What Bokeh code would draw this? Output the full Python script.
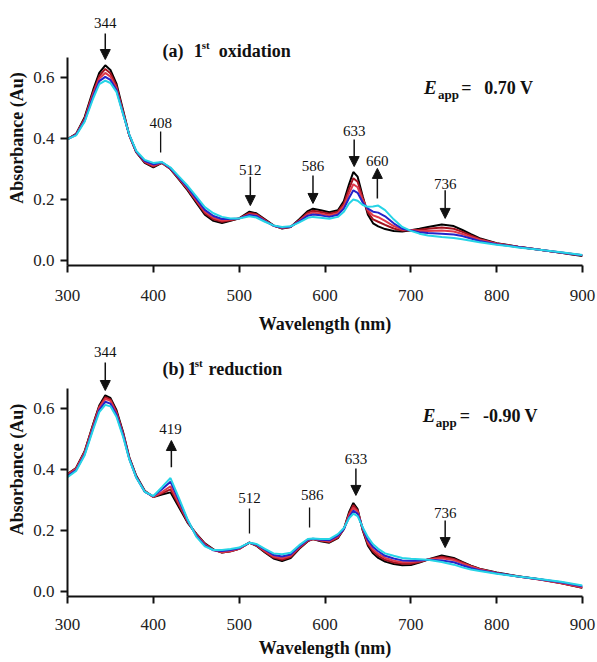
from bokeh.plotting import figure
from bokeh.models import Label, Arrow, NormalHead, FixedTicker, Range1d, CustomJSTickFormatter
from bokeh.layouts import column
from bokeh.embed import file_html
from bokeh.resources import INLINE

# ---------------- data ----------------
wavelength = [300, 310, 320, 330, 337, 344, 350, 357, 365, 372,
              380, 390, 400, 410, 420, 430, 440, 450, 460, 470,
              480, 490, 500, 512, 520, 530, 540, 550, 560, 570,
              580, 586, 595, 605, 615, 622, 628, 633, 638, 644,
              650, 656, 662, 670, 680, 690, 700, 710, 720, 736,
              750, 760, 770, 780, 800, 825, 850, 875, 900]

# (a) 1st oxidation
ox_0 = [.398, .415, .470, .560, .615, .640, .625, .580, .490, .410,
        .355, .320, .305, .320, .300, .265, .230, .190, .150, .130,
        .123, .130, .138, .160, .155, .135, .115, .105, .110, .135,
        .162, .170, .165, .158, .165, .195, .250, .290, .275, .210,
        .150, .122, .112, .103, .097, .095, .099, .104, .110, .118,
        .113, .100, .086, .073, .057, .045, .035, .025, .015]
ox_1 = [.398, .414, .466, .553, .605, .628, .614, .572, .485, .410,
        .356, .322, .308, .320, .300, .267, .233, .194, .155, .135,
        .127, .132, .138, .156, .152, .133, .114, .106, .110, .132,
        .157, .163, .159, .153, .160, .187, .235, .270, .258, .205,
        .158, .135, .127, .117, .105, .098, .099, .101, .104, .108,
        .104, .094, .082, .071, .056, .045, .035, .025, .016]
ox_2 = [.398, .413, .462, .547, .597, .615, .603, .565, .482, .410,
        .357, .324, .311, .321, .302, .269, .236, .198, .160, .140,
        .131, .134, .138, .152, .149, .131, .114, .107, .111, .130,
        .152, .157, .153, .148, .155, .178, .220, .250, .240, .198,
        .165, .148, .142, .130, .113, .101, .099, .097, .097, .098,
        .095, .087, .077, .068, .055, .044, .035, .026, .017]
ox_3 = [.398, .412, .458, .540, .588, .602, .592, .560, .479, .412,
        .358, .326, .315, .322, .303, .271, .240, .203, .166, .146,
        .136, .136, .138, .149, .146, .129, .114, .108, .111, .128,
        .147, .151, .148, .143, .150, .170, .205, .230, .222, .190,
        .170, .160, .157, .145, .122, .104, .098, .093, .090, .088,
        .085, .080, .072, .064, .053, .044, .035, .026, .017]
ox_4 = [.398, .410, .455, .532, .578, .590, .582, .553, .477, .413,
        .360, .330, .320, .323, .305, .275, .245, .210, .175, .155,
        .143, .138, .138, .145, .141, .127, .115, .110, .112, .125,
        .140, .143, .140, .137, .143, .160, .187, .200, .196, .182,
        .176, .177, .180, .165, .135, .110, .097, .088, .082, .077,
        .074, .070, .065, .060, .052, .043, .035, .027, .018]

# (b) 1st reduction
re_0 = [.385, .405, .460, .550, .610, .643, .635, .595, .520, .440,
        .380, .330, .310, .318, .325, .275, .225, .190, .158, .138,
        .128, .132, .140, .160, .150, .128, .108, .100, .110, .140,
        .165, .172, .165, .160, .175, .205, .260, .290, .270, .200,
        .150, .125, .110, .098, .090, .086, .087, .095, .105, .118,
        .110, .097, .085, .075, .062, .050, .040, .028, .012]
re_1 = [.385, .404, .458, .547, .606, .637, .630, .590, .517, .438,
        .378, .329, .310, .322, .335, .282, .228, .188, .156, .137,
        .128, .132, .140, .160, .151, .130, .111, .104, .113, .142,
        .166, .172, .166, .162, .177, .205, .255, .283, .266, .202,
        .155, .131, .117, .104, .095, .091, .091, .097, .105, .114,
        .107, .095, .084, .074, .061, .049, .039, .027, .012]
re_2 = [.383, .402, .455, .543, .602, .632, .625, .585, .513, .436,
        .376, .328, .310, .326, .345, .289, .230, .186, .154, .136,
        .129, .133, .140, .160, .152, .133, .115, .109, .117, .145,
        .168, .172, .168, .165, .180, .205, .250, .275, .262, .205,
        .161, .138, .124, .110, .101, .096, .096, .099, .105, .109,
        .103, .092, .082, .073, .061, .049, .039, .028, .014]
re_3 = [.378, .398, .450, .537, .595, .622, .616, .580, .510, .435,
        .375, .327, .312, .335, .360, .298, .233, .183, .151, .135,
        .133, .136, .142, .160, .154, .137, .120, .115, .121, .148,
        .170, .173, .170, .168, .183, .205, .243, .265, .255, .208,
        .168, .146, .132, .117, .108, .102, .101, .102, .104, .102,
        .096, .086, .077, .070, .060, .049, .040, .030, .017]
re_4 = [.375, .395, .447, .532, .588, .612, .607, .573, .505, .433,
        .374, .327, .313, .342, .372, .305, .236, .180, .148, .136,
        .136, .139, .144, .160, .156, .140, .125, .122, .127, .152,
        .172, .174, .172, .172, .188, .208, .240, .255, .247, .210,
        .178, .155, .140, .125, .117, .110, .107, .106, .104, .097,
        .088, .079, .072, .067, .058, .049, .041, .032, .020]

series_colors = ["#000000", "#a3121f", "#e0394a", "#2424c8", "#26d4e6"]
x_ticks = [300, 400, 500, 600, 700, 800, 900]
y_ticks = [0.0, 0.2, 0.4, 0.6]

# peak annotations: (text, x of label, y of label, arrow x, y start, y end, kind)
ox_peaks = [("344", 344, .780, 344, .744, .659, "down"),
            ("408", 408.5, .452, 408.5, .423, .354, "line"),
            ("512", 513, .298, 513, .275, .180, "down"),
            ("586", 586, .311, 586, .279, .187, "down"),
            ("633", 634, .426, 634, .397, .308, "down"),
            ("660", 661, .325, 661, .203, .302, "up"),
            ("736", 740, .252, 740, .230, .138, "down")]
re_peaks = [("344", 344, .784, 344, .751, .659, "down"),
            ("419", 420, .534, 421, .407, .495, "up"),
            ("512", 512, .308, 512, .272, .190, "line"),
            ("586", 585, .315, 582, .275, .210, "line"),
            ("633", 636, .436, 636, .403, .315, "down"),
            ("736", 740, .259, 740, .233, .144, "down")]

FONT = "Liberation Serif"
Y_START = -0.0164
Y_AXIS_TOP = 0.666


def lab(p, x, y, text, size="15px", style="normal", align="center"):
    p.add_layout(Label(x=x, y=y, text=text, text_font=FONT, text_font_size=size,
                       text_font_style=style, text_align=align, text_baseline="middle",
                       text_color="#111111"))


def make_panel(series, peaks, height, top, bottom, y_end, tick_standoff, label_standoff):
    p = figure(width=597, height=height, output_backend="svg", toolbar_location=None,
               x_range=Range1d(300, 900), y_range=Range1d(Y_START, y_end),
               min_border_left=67, min_border_right=15, min_border_top=top,
               min_border_bottom=bottom)
    p.outline_line_color = None
    p.grid.visible = False
    p.background_fill_color = "white"
    p.border_fill_color = "white"
    for ys, c in zip(series, series_colors):
        p.line(wavelength, ys, line_color=c, line_width=2)
    for ax in (p.xaxis[0], p.yaxis[0]):
        ax.axis_line_width = 2
        ax.axis_line_color = "#111111"
        ax.major_tick_line_width = 2
        ax.major_tick_line_color = "#111111"
        ax.major_tick_out = 7
        ax.major_tick_in = 0
        ax.minor_tick_out = 0
        ax.minor_tick_in = 0
        ax.major_label_text_font = FONT
        ax.major_label_text_font_size = "17px"
        ax.major_label_text_color = "#222222"
        ax.axis_label_text_font = FONT
        ax.axis_label_text_font_size = "18px"
        ax.axis_label_text_font_style = "bold"
        ax.axis_label_text_color = "#111111"
    p.xaxis.ticker = FixedTicker(ticks=x_ticks)
    p.yaxis.ticker = FixedTicker(ticks=y_ticks)
    p.yaxis.bounds = (Y_START, Y_AXIS_TOP)
    p.yaxis.formatter = CustomJSTickFormatter(code="return tick.toFixed(1);")
    p.xaxis.axis_label = "Wavelength (nm)"
    p.yaxis.axis_label = "Absorbance (Au)"
    p.xaxis.major_label_standoff = tick_standoff
    p.xaxis.axis_label_standoff = label_standoff
    p.yaxis.major_label_standoff = 6
    p.yaxis.axis_label_standoff = 3
    for text, lx, ly, ax_, y0, y1, kind in peaks:
        lab(p, lx, ly, text)
        if kind == "line":
            p.add_layout(Arrow(x_start=ax_, y_start=y0, x_end=ax_, y_end=y1, end=None,
                               line_width=1.3, line_color="#111111"))
        else:
            p.add_layout(Arrow(x_start=ax_, y_start=y0, x_end=ax_, y_end=y1,
                               end=NormalHead(size=10, fill_color="#111111",
                                              line_color="#111111", line_width=1),
                               line_width=1.5, line_color="#111111"))
    return p


top = make_panel([ox_0, ox_1, ox_2, ox_3, ox_4], ox_peaks, 340, 10, 75, 0.8197, 17, 10)
lab(top, 410.8, .6885, "(a)", "18px", "bold", "left")
lab(top, 447, .6885, "1", "18px", "bold", "left")
lab(top, 456.3, .705, "st", "11px", "bold", "left")
lab(top, 476.1, .6885, "oxidation", "18px", "bold", "left")
lab(top, 715.4, .567, "E", "19px", "bold italic", "left")
lab(top, 731.7, .544, "app", "13px", "bold", "left")
lab(top, 758.6, .567, "=", "18px", "bold", "left")
lab(top, 785.5, .567, "0.70 V", "18px", "bold", "left")

bot = make_panel([re_0, re_1, re_2, re_3, re_4], re_peaks, 322, 2, 66, 0.8164, 15, 5)
lab(bot, 410.8, .731, "(b)", "18px", "bold", "left")
lab(bot, 440, .731, "1", "18px", "bold", "left")
lab(bot, 448.3, .748, "st", "11px", "bold", "left")
lab(bot, 464.4, .731, "reduction", "18px", "bold", "left")
lab(bot, 714, .577, "E", "19px", "bold italic", "left")
lab(bot, 729, .554, "app", "13px", "bold", "left")
lab(bot, 757, .577, "=", "18px", "bold", "left")
lab(bot, 784, .577, "-0.90 V", "18px", "bold", "left")

layout = column(top, bot, spacing=0)
open("out.html", "w").write(file_html(layout, INLINE))
